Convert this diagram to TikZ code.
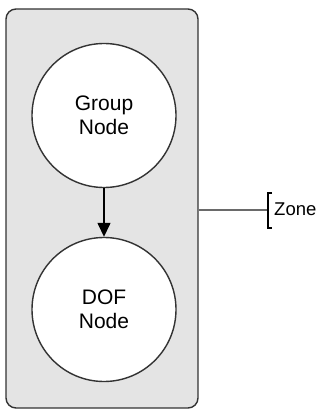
\documentclass[tikz,border=0pt]{standalone}
\usepackage{fontspec}
\setmainfont{Liberation Sans}
\usetikzlibrary{arrows.meta}
\definecolor{zonefill}{HTML}{E4E4E4}
\definecolor{edgegray}{HTML}{333333}
\definecolor{linkgray}{HTML}{6A6A6A}
\newcommand{\nodeFont}[0]{\fontsize{21}{24.5}\selectfont}

\begin{document}
\begin{tikzpicture}[x=1pt, y=-1pt]
  \tikzset{zone box/.style={draw=edgegray, line width=1.4pt, fill=zonefill,
             rounded corners=10pt, minimum width=192pt, minimum height=399pt},
           state/.style={circle, draw=edgegray, line width=1.4pt, fill=white,
             minimum size=144pt, align=center, font=\nodeFont},
           flow/.style={-{Triangle[length=14pt,width=13pt]}, line width=1.4pt},
           link/.style={draw=linkgray, line width=2pt}}
  \useasboundingbox (0,0) rectangle (323,409);
  \node[zone box] (zone) at (102,208.5) {};
  \node[state] (group) at (104,115.5) {Group\\Node};
  \node[state] (dof) at (104,309.5) {DOF\\Node};
  \draw[flow] (group) -- (dof);
  % bracket label
  \coordinate (brk) at (268,209.5);
  \draw[link] (zone.east |- brk) -- (brk);
  \draw[line width=1.4pt] ([xshift=4pt]brk |- 0,193) -- (brk |- 0,193) -- (brk |- 0,228) -- ([xshift=4pt]brk |- 0,228);
  \node[anchor=west, inner sep=0pt, font=\fontsize{18.5}{22}\selectfont] (zonelabel) at ([xshift=6pt]brk) {Zone};
\end{tikzpicture}
\end{document}
